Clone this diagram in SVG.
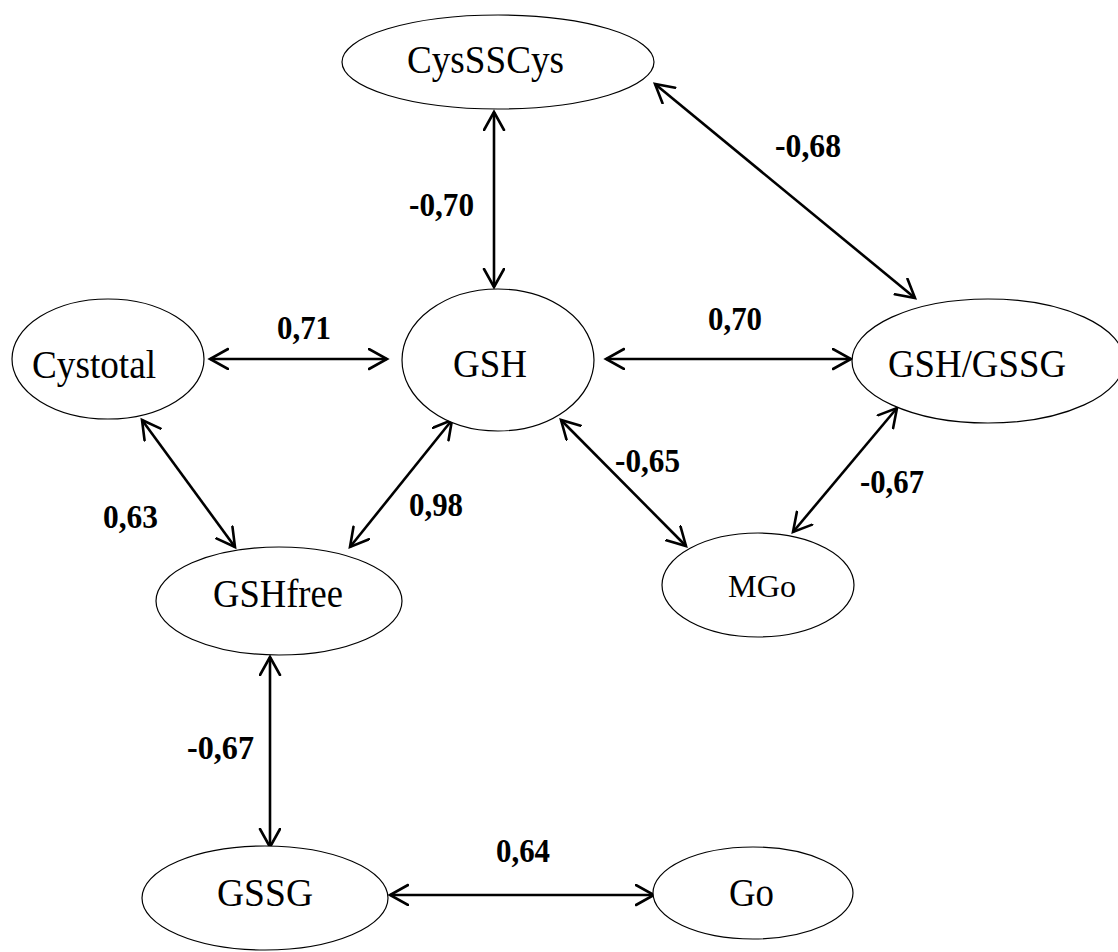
<svg xmlns="http://www.w3.org/2000/svg" width="1118" height="952" viewBox="0 0 1118 952">
<style>
.node ellipse{fill:#fff;stroke:#000;stroke-width:1.2}
.node text{font-family:"Liberation Serif","Times New Roman",serif;font-size:39px;fill:#000}
.lbl{font-family:"Liberation Serif","Times New Roman",serif;font-size:33px;font-weight:bold;fill:#000}
#connectors line{stroke:#000;stroke-width:2.6;fill:none;marker-start:url(#ah);marker-end:url(#ah)}
</style>
<defs>
<marker id="ah" markerUnits="userSpaceOnUse" markerWidth="24" markerHeight="26" refX="19" refY="11" orient="auto-start-reverse" viewBox="0 0 24 26">
<path d="M1,1 L19,11 L1,21" fill="none" stroke="#000" stroke-width="2.6" stroke-linecap="round" stroke-linejoin="miter"/>
</marker>
</defs>
<rect width="1118" height="952" fill="#fff"/>
<g id="connectors">
<line x1="494" y1="112" x2="494" y2="287"/>
<line x1="655" y1="84" x2="915" y2="298"/>
<line x1="210" y1="359" x2="387" y2="359"/>
<line x1="606" y1="359" x2="851" y2="359"/>
<line x1="142" y1="420" x2="235" y2="547"/>
<line x1="452" y1="420" x2="350" y2="547"/>
<line x1="561" y1="420" x2="686" y2="546"/>
<line x1="897" y1="408" x2="793" y2="532"/>
<line x1="270" y1="657" x2="270" y2="847"/>
<line x1="390" y1="895" x2="654" y2="895"/>
</g>
<g id="labels">
<text class="lbl" x="409" y="216" textLength="65" lengthAdjust="spacingAndGlyphs">-0,70</text>
<text class="lbl" x="775" y="157" textLength="66" lengthAdjust="spacingAndGlyphs">-0,68</text>
<text class="lbl" x="277" y="339" textLength="54" lengthAdjust="spacingAndGlyphs">0,71</text>
<text class="lbl" x="708" y="330" textLength="54" lengthAdjust="spacingAndGlyphs">0,70</text>
<text class="lbl" x="103" y="528" textLength="55" lengthAdjust="spacingAndGlyphs">0,63</text>
<text class="lbl" x="409" y="516" textLength="54" lengthAdjust="spacingAndGlyphs">0,98</text>
<text class="lbl" x="615" y="472" textLength="65" lengthAdjust="spacingAndGlyphs">-0,65</text>
<text class="lbl" x="860" y="493" textLength="64" lengthAdjust="spacingAndGlyphs">-0,67</text>
<text class="lbl" x="187" y="759" textLength="67" lengthAdjust="spacingAndGlyphs">-0,67</text>
<text class="lbl" x="496" y="862" textLength="54" lengthAdjust="spacingAndGlyphs">0,64</text>
</g>
<g id="node-cysscys" class="node">
<ellipse cx="498" cy="62" rx="156" ry="47"/>
<text x="407" y="73" textLength="157" lengthAdjust="spacingAndGlyphs">CysSSCys</text>
</g>
<g id="node-cystotal" class="node">
<ellipse cx="108" cy="359" rx="96" ry="60"/>
<text x="32" y="378" textLength="124" lengthAdjust="spacingAndGlyphs">Cystotal</text>
</g>
<g id="node-gsh" class="node">
<ellipse cx="498" cy="360" rx="96" ry="71"/>
<text x="453" y="377" textLength="74" lengthAdjust="spacingAndGlyphs">GSH</text>
</g>
<g id="node-gshgssg" class="node">
<ellipse cx="988" cy="361" rx="136" ry="62"/>
<text x="888" y="377" textLength="178" lengthAdjust="spacingAndGlyphs">GSH/GSSG</text>
</g>
<g id="node-gshfree" class="node">
<ellipse cx="279" cy="601" rx="123" ry="54"/>
<text x="213" y="607" textLength="130" lengthAdjust="spacingAndGlyphs">GSHfree</text>
</g>
<g id="node-mgo" class="node">
<ellipse cx="758" cy="585" rx="96" ry="52"/>
<text x="728" y="597" textLength="68" lengthAdjust="spacingAndGlyphs" style="font-size:32px">MGo</text>
</g>
<g id="node-gssg" class="node">
<ellipse cx="265" cy="898" rx="123" ry="52"/>
<text x="217" y="906" textLength="96" lengthAdjust="spacingAndGlyphs">GSSG</text>
</g>
<g id="node-go" class="node">
<ellipse cx="753" cy="893" rx="100" ry="46"/>
<text x="729" y="906" textLength="45" lengthAdjust="spacingAndGlyphs">Go</text>
</g>
</svg>
